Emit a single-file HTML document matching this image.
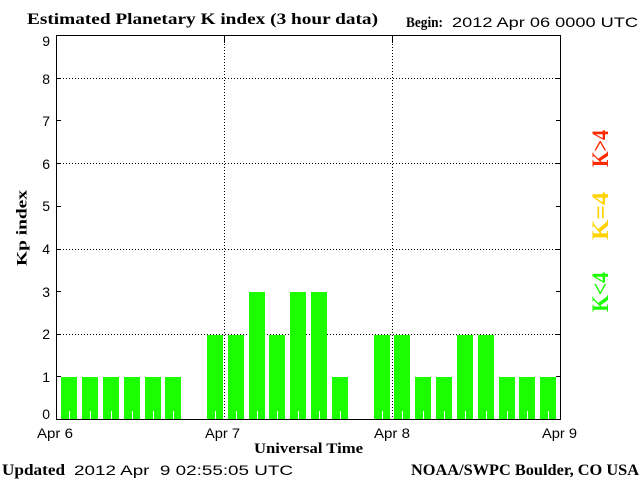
<!DOCTYPE html>
<html><head><meta charset="utf-8"><style>
html,body{margin:0;padding:0;background:#fff;}
svg{display:block;}
.sb{font-family:"Liberation Serif",serif;font-weight:bold;fill:#000;}
.ss{font-family:"Liberation Sans",sans-serif;fill:#000;white-space:pre;}
</style></head><body>
<svg width="640" height="480" viewBox="0 0 640 480" xmlns="http://www.w3.org/2000/svg">
<rect width="640" height="480" fill="#fff"/>
<g shape-rendering="crispEdges">
<g stroke="#000" stroke-width="1" stroke-dasharray="1 2">
<line x1="60" y1="78.5" x2="556" y2="78.5"/>
<line x1="60" y1="163.5" x2="556" y2="163.5"/>
<line x1="60" y1="249.5" x2="556" y2="249.5"/>
<line x1="60" y1="334.5" x2="556" y2="334.5"/>
<line x1="224.5" y1="44" x2="224.5" y2="419"/>
<line x1="392.5" y1="44" x2="392.5" y2="419"/>
</g>
<g fill="#1cff00">
<rect x="61" y="377" width="16" height="42"/>
<rect x="82" y="377" width="16" height="42"/>
<rect x="103" y="377" width="16" height="42"/>
<rect x="124" y="377" width="16" height="42"/>
<rect x="145" y="377" width="16" height="42"/>
<rect x="165" y="377" width="16" height="42"/>
<rect x="207" y="335" width="16" height="84"/>
<rect x="228" y="335" width="16" height="84"/>
<rect x="249" y="292" width="16" height="127"/>
<rect x="269" y="335" width="16" height="84"/>
<rect x="290" y="292" width="16" height="127"/>
<rect x="311" y="292" width="16" height="127"/>
<rect x="332" y="377" width="16" height="42"/>
<rect x="374" y="335" width="16" height="84"/>
<rect x="394" y="335" width="16" height="84"/>
<rect x="415" y="377" width="16" height="42"/>
<rect x="436" y="377" width="16" height="42"/>
<rect x="457" y="335" width="16" height="84"/>
<rect x="478" y="335" width="16" height="84"/>
<rect x="499" y="377" width="16" height="42"/>
<rect x="519" y="377" width="16" height="42"/>
<rect x="540" y="377" width="16" height="42"/>
</g>
<g fill="#fff">
<rect x="69" y="411" width="1" height="8"/>
<rect x="90" y="411" width="1" height="8"/>
<rect x="111" y="411" width="1" height="8"/>
<rect x="132" y="411" width="1" height="8"/>
<rect x="153" y="411" width="1" height="8"/>
<rect x="173" y="411" width="1" height="8"/>
<rect x="215" y="411" width="1" height="8"/>
<rect x="236" y="411" width="1" height="8"/>
<rect x="257" y="411" width="1" height="8"/>
<rect x="277" y="411" width="1" height="8"/>
<rect x="298" y="411" width="1" height="8"/>
<rect x="319" y="411" width="1" height="8"/>
<rect x="340" y="411" width="1" height="8"/>
<rect x="382" y="411" width="1" height="8"/>
<rect x="402" y="411" width="1" height="8"/>
<rect x="423" y="411" width="1" height="8"/>
<rect x="444" y="411" width="1" height="8"/>
<rect x="465" y="411" width="1" height="8"/>
<rect x="486" y="411" width="1" height="8"/>
<rect x="507" y="411" width="1" height="8"/>
<rect x="527" y="411" width="1" height="8"/>
<rect x="548" y="411" width="1" height="8"/>
</g>
<rect x="56.5" y="35.5" width="504" height="384" fill="none" stroke="#000" stroke-width="1"/>
<g stroke="#000" stroke-width="1">
<line x1="56" y1="78.5" x2="61" y2="78.5"/><line x1="556" y1="78.5" x2="561" y2="78.5"/>
<line x1="56" y1="120.5" x2="61" y2="120.5"/><line x1="556" y1="120.5" x2="561" y2="120.5"/>
<line x1="56" y1="163.5" x2="61" y2="163.5"/><line x1="556" y1="163.5" x2="561" y2="163.5"/>
<line x1="56" y1="206.5" x2="61" y2="206.5"/><line x1="556" y1="206.5" x2="561" y2="206.5"/>
<line x1="56" y1="249.5" x2="61" y2="249.5"/><line x1="556" y1="249.5" x2="561" y2="249.5"/>
<line x1="56" y1="291.5" x2="61" y2="291.5"/><line x1="556" y1="291.5" x2="561" y2="291.5"/>
<line x1="56" y1="334.5" x2="61" y2="334.5"/><line x1="556" y1="334.5" x2="561" y2="334.5"/>
<line x1="56" y1="376.5" x2="61" y2="376.5"/><line x1="556" y1="376.5" x2="561" y2="376.5"/>
<line x1="224.5" y1="35" x2="224.5" y2="43"/>
<line x1="392.5" y1="35" x2="392.5" y2="43"/>
</g>
</g>
<text class="sb" x="27" y="24" font-size="16" textLength="351" lengthAdjust="spacingAndGlyphs">Estimated Planetary K index (3 hour data)</text>
<text class="sb" x="406" y="27" font-size="15" textLength="37" lengthAdjust="spacingAndGlyphs">Begin:</text>
<text class="ss" x="452" y="27" font-size="14" textLength="186" lengthAdjust="spacingAndGlyphs">2012 Apr 06 0000 UTC</text>
<g class="ss" font-size="14" text-anchor="end">
<text x="50" y="46">9</text>
<text x="50" y="84">8</text>
<text x="50" y="126">7</text>
<text x="50" y="169">6</text>
<text x="50" y="211">5</text>
<text x="50" y="254">4</text>
<text x="50" y="297">3</text>
<text x="50" y="339">2</text>
<text x="50" y="382">1</text>
<text x="50" y="419">0</text>
</g>
<text class="ss" x="37" y="438" font-size="14" textLength="36" lengthAdjust="spacingAndGlyphs">Apr 6</text>
<text class="ss" x="205" y="438" font-size="14" textLength="35" lengthAdjust="spacingAndGlyphs">Apr 7</text>
<text class="ss" x="374" y="438" font-size="14" textLength="36" lengthAdjust="spacingAndGlyphs">Apr 8</text>
<text class="ss" x="542" y="438" font-size="14" textLength="35" lengthAdjust="spacingAndGlyphs">Apr 9</text>
<text class="sb" x="254" y="453" font-size="15" textLength="109" lengthAdjust="spacingAndGlyphs">Universal Time</text>
<text class="sb" x="2" y="475" font-size="16" textLength="63" lengthAdjust="spacingAndGlyphs">Updated</text>
<text class="ss" x="74" y="475" font-size="14" textLength="219" lengthAdjust="spacingAndGlyphs">2012 Apr  9 02:55:05 UTC</text>
<text class="sb" x="411" y="475" font-size="16" textLength="228" lengthAdjust="spacingAndGlyphs">NOAA/SWPC Boulder, CO USA</text>
<text class="sb" transform="translate(26.5,228) rotate(-90)" font-size="15" text-anchor="middle" textLength="76" lengthAdjust="spacingAndGlyphs">Kp index</text>
<g font-family="Liberation Serif, serif" font-weight="bold" font-size="23" text-anchor="middle">
<text transform="translate(608,148.5) rotate(-90)" fill="#ff2a00" textLength="37" lengthAdjust="spacingAndGlyphs">K&gt;4</text>
<text transform="translate(608,216) rotate(-90)" fill="#ffd200" textLength="48" lengthAdjust="spacingAndGlyphs">K=4</text>
<text transform="translate(608,292) rotate(-90)" fill="#1cff00" textLength="40" lengthAdjust="spacingAndGlyphs">K&lt;4</text>
</g>
</svg>
</body></html>
